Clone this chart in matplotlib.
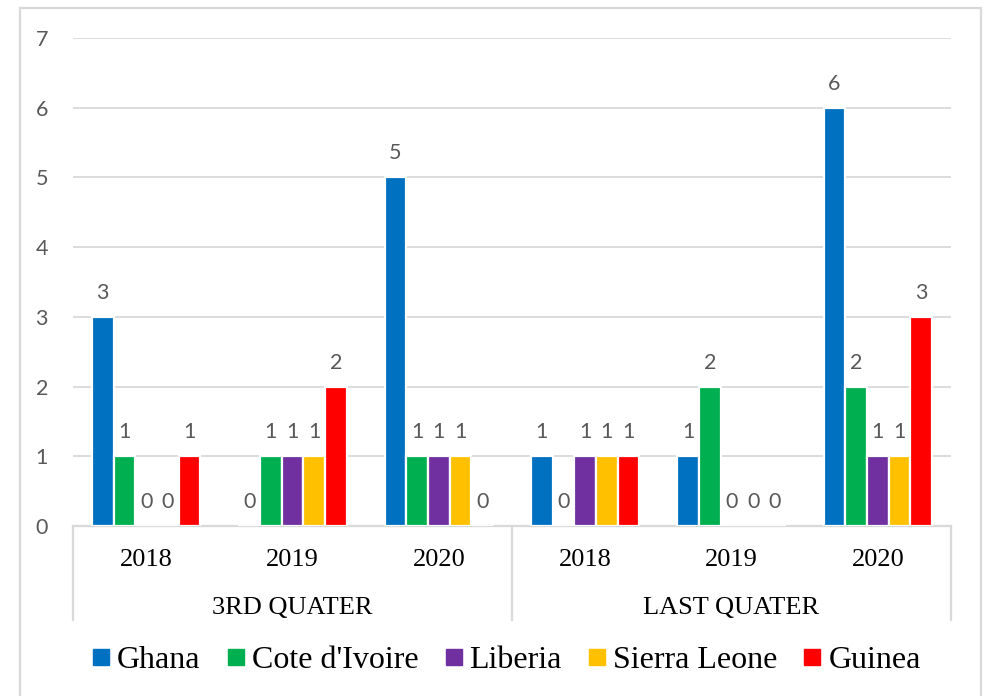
import numpy as np
import matplotlib.pyplot as plt
from matplotlib.patches import Rectangle
from matplotlib.lines import Line2D

# counts per country, by quarter and year
quarters = ['3RD QUATER', 'LAST QUATER']
years = ['2018', '2019', '2020']
countries = ['Ghana', "Cote d'Ivoire", 'Liberia', 'Sierra Leone', 'Guinea']
colors = ['#0070C0', '#00B050', '#7030A0', '#FFC000', '#FF0000']

ghana = [3, 0, 5, 1, 1, 6]
cote = [1, 1, 1, 0, 2, 2]
liberia = [0, 1, 1, 1, 0, 1]
sierra = [0, 1, 1, 1, 0, 1]
guinea = [1, 2, 0, 1, 0, 3]
series = [ghana, cote, liberia, sierra, guinea]

W, H = 987, 696
fig = plt.figure(figsize=(9.87, 6.96), dpi=100)
ax = fig.add_axes([73 / W, 1 - 526 / H, (951 - 73) / W, (526 - 38) / H])

ncat = len(quarters) * len(years)
x = np.arange(ncat)
slot = 0.74 / len(series)
for i, (vals, c) in enumerate(zip(series, colors)):
    pos = x - 0.37 + slot * (i + 0.5)
    ax.bar(pos, vals, width=slot, color=c, edgecolor='white', linewidth=1.6, zorder=3)
    for px, v in zip(pos, vals):
        ax.annotate(str(v), (px, v), xytext=(0, 13), textcoords='offset points',
                    ha='center', va='baseline', fontsize=15.5, color='#595959',
                    family='Lato')

ax.set_xlim(-0.5, ncat - 0.5)
ax.set_ylim(0, 7)
ax.set_yticks(range(8))
ax.set_xticks([])
ax.grid(axis='y', color='#D9D9D9', linewidth=1.3, zorder=0)
for s in ['top', 'right', 'left']:
    ax.spines[s].set_visible(False)
ax.spines['bottom'].set_color('#D9D9D9')
ax.spines['bottom'].set_linewidth(1.6)
ax.tick_params(axis='y', length=0, pad=18, labelsize=15.5, labelcolor='#595959')
for lab in ax.get_yticklabels():
    lab.set_family('Lato')

# two-level category axis
trans = ax.get_xaxis_transform()
for xs in [-0.5, 2.5, 5.5]:
    ax.plot([xs, xs], [0, -(620 - 526) / (526 - 38)], transform=trans,
            color='#D9D9D9', linewidth=1.6, clip_on=False)
for k in range(ncat):
    ax.text(k, -(566 - 526) / (526 - 38), years[k % 3], transform=trans,
            ha='center', va='baseline', fontsize=19, family='Liberation Serif')
for q, name in enumerate(quarters):
    ax.text(q * 3 + 1, -(614 - 526) / (526 - 38), name, transform=trans,
            ha='center', va='baseline', fontsize=19, family='Liberation Serif')

handles = [Line2D([], [], marker='s', linestyle='none', markersize=11,
                  markerfacecolor=c, markeredgecolor=c) for c in colors]
fig.legend(handles, countries, loc='center', bbox_to_anchor=(507 / W, 1 - 660 / H),
           ncol=5, frameon=False, prop={'family': 'Liberation Serif', 'size': 23},
           handlelength=0.5, handletextpad=0.25, columnspacing=0.85,
           borderpad=0)

# chart border
fig.patches.append(Rectangle((20 / W, -0.05), 961 / W, 1.05 - 8 / H,
                             transform=fig.transFigure, fill=False,
                             edgecolor='#D9D9D9', linewidth=1.6))

fig.savefig('out.png', dpi=100)
